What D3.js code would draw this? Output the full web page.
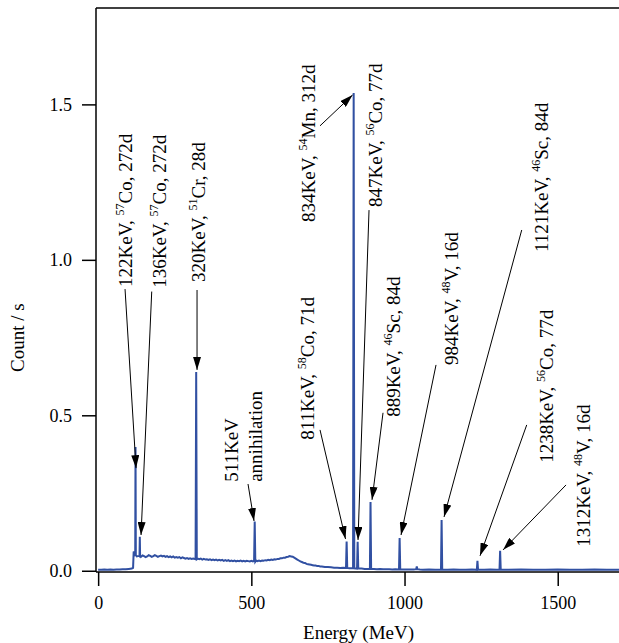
<!DOCTYPE html>
<html>
<head>
<meta charset="utf-8">
<script src="https://cdn.jsdelivr.net/npm/d3@7"></script>
</head>
<body style="margin:0; background:#fff">
<svg width="619" height="643"></svg>
<script>
// gamma spectrum, [energy, count/s]
const spectrum = [
  [0,0.003],[10,0.003],[20,0.004],[30,0.003],[40,0.004],[50,0.003],[60,0.004],[70,0.004],
  [80,0.005],[90,0.005],[100,0.006],[110,0.007],[114,0.009],[116,0.062],[118,0.058],
  [120,0.051],[121,0.052],[122,0.398],[123,0.050],[126,0.046],[130,0.047],[134,0.048],
  [135,0.047],[136,0.109],[137,0.047],[140,0.045],[145,0.049],[150,0.047],[155,0.044],
  [160,0.046],[165,0.050],[170,0.048],[175,0.045],[180,0.047],[185,0.050],[190,0.048],
  [195,0.045],[200,0.047],[205,0.049],[210,0.046],[215,0.048],[220,0.045],[225,0.047],
  [230,0.044],[235,0.046],[240,0.043],[245,0.046],[250,0.042],[255,0.044],[260,0.042],
  [265,0.044],[270,0.040],[275,0.043],[280,0.041],[285,0.039],[290,0.041],[295,0.038],
  [300,0.040],[305,0.038],[310,0.039],[318,0.037],[320,0.639],[322,0.037],[325,0.039],
  [330,0.037],[335,0.039],[340,0.036],[345,0.038],[350,0.036],[355,0.037],[360,0.035],
  [365,0.037],[370,0.034],[375,0.036],[380,0.034],[385,0.036],[390,0.033],[395,0.035],
  [400,0.033],[405,0.035],[410,0.032],[415,0.034],[420,0.032],[425,0.034],[430,0.031],
  [435,0.033],[440,0.031],[445,0.033],[450,0.030],[455,0.032],[460,0.031],[465,0.033],
  [470,0.030],[475,0.032],[480,0.030],[485,0.032],[490,0.031],[495,0.030],[500,0.032],
  [505,0.030],[509,0.032],[511,0.158],[513,0.029],[516,0.033],[520,0.031],[525,0.033],
  [530,0.031],[535,0.033],[540,0.032],[545,0.034],[550,0.033],[555,0.035],[560,0.034],
  [565,0.036],[570,0.035],[575,0.037],[580,0.036],[585,0.038],[590,0.038],[595,0.040],
  [600,0.040],[605,0.042],[610,0.042],[615,0.044],[620,0.045],[625,0.047],[630,0.046],
  [635,0.045],[640,0.042],[645,0.039],[650,0.036],[655,0.033],[660,0.030],[665,0.028],
  [670,0.026],[675,0.025],[680,0.022],[685,0.021],[690,0.020],[695,0.019],[700,0.018],
  [705,0.017],[710,0.017],[715,0.015],[720,0.015],[725,0.014],[730,0.014],[740,0.012],
  [750,0.012],[760,0.011],[770,0.010],[780,0.010],[790,0.009],[800,0.010],[809,0.009],
  [811,0.094],[813,0.009],[820,0.008],[832,0.008],[834,1.537],[836,0.008],[845,0.007],
  [847,0.093],[849,0.007],[860,0.007],[870,0.006],[880,0.006],[887,0.006],[889,0.221],
  [891,0.006],[900,0.006],[910,0.005],[920,0.006],[930,0.005],[940,0.005],[950,0.005],
  [960,0.004],[970,0.005],[982,0.004],[984,0.105],[986,0.004],[1000,0.004],[1010,0.004],
  [1020,0.004],[1030,0.004],[1038,0.005],[1040,0.014],[1042,0.005],[1050,0.004],
  [1060,0.003],[1080,0.004],[1100,0.003],[1119,0.003],[1121,0.163],[1123,0.003],
  [1140,0.003],[1160,0.004],[1180,0.003],[1200,0.003],[1220,0.004],[1236,0.003],
  [1238,0.032],[1240,0.003],[1260,0.003],[1280,0.004],[1300,0.003],[1310,0.003],
  [1312,0.064],[1314,0.003],[1340,0.003],[1380,0.004],[1420,0.003],[1460,0.003],
  [1500,0.004],[1540,0.003],[1580,0.003],[1620,0.004],[1660,0.003],[1700,0.003]
];

const xTicks = [0, 500, 1000, 1500];
const yTicks = [0, 0.5, 1.0, 1.5];

// peak labels: text (^..^ = superscript), label anchor, arrow from -> to (data units)
const labelTexts = [
  "122KeV, ^57^Co, 272d", "136KeV, ^57^Co, 272d", "320KeV, ^51^Cr, 28d",
  "511KeV", "annihilation", "811KeV, ^58^Co, 71d", "834KeV, ^54^Mn, 312d",
  "847KeV, ^56^Co, 77d", "889KeV, ^46^Sc, 84d", "984KeV, ^48^V, 16d",
  "1121KeV, ^46^Sc, 84d", "1238KeV, ^56^Co, 77d", "1312KeV, ^48^V, 16d"
];
const labelAt = [
  [110.6,0.913],[221.6,0.910],[348.9,0.929],[456.6,0.286],[534.9,0.286],[704.6,0.421],
  [707.9,1.122],[926.6,1.170],[985.3,0.495],[1174.6,0.662],[1468.3,1.025],[1484.7,0.347],
  [1605.4,0.077]
];
const arrows = [
  [[87.8,0.906],[123.7,0.330]],
  [[174.9,0.898],[140.0,0.115]],
  [[322.8,0.903],[322.8,0.646]],
  [[489.2,0.279],[508.8,0.160]],
  [[724.2,0.453],[807.4,0.102]],
  [[724.2,1.431],[830.3,1.530]],
  [[884.1,1.160],[848.2,0.099]],
  [[929.8,0.508],[893.9,0.228]],
  [[1102.8,0.662],[988.6,0.115]],
  [[1382.5,1.096],[1128.9,0.173]],
  [[1398.8,0.469],[1246.4,0.048]],
  [[1527.1,0.276],[1321.5,0.067]]
];

const W = 619, H = 643;
const margin = { top: 8, right: 0, bottom: 71, left: 96 };
const width = W - margin.left - margin.right;
const height = H - margin.top - margin.bottom;
const serif = "Liberation Serif";

const svg = d3.select("svg").attr("font-family", serif);
const g = svg.append("g").attr("transform", `translate(${margin.left},${margin.top})`);

const x = d3.scaleLinear().domain([-7, 1700]).range([0, width]);
const y = d3.scaleLinear().domain([-0.004, 1.81]).range([height, 0]);

// arrowhead
svg.append("defs").append("marker")
  .attr("id", "head")
  .attr("markerUnits", "userSpaceOnUse")
  .attr("markerWidth", 13).attr("markerHeight", 8)
  .attr("refX", 13).attr("refY", 4)
  .attr("orient", "auto")
  .append("path").attr("d", "M0,0L13,4L0,8Z").attr("fill", "#000");

// spectrum
g.append("path")
  .datum(spectrum)
  .attr("d", d3.line().x(d => x(d[0])).y(d => y(d[1])))
  .attr("fill", "none")
  .attr("stroke", "#3150a2")
  .attr("stroke-width", 2)
  .attr("stroke-linejoin", "miter");

// axes
const xAxis = g.append("g")
  .attr("transform", `translate(0,${height})`)
  .call(d3.axisBottom(x).tickValues(xTicks).tickSize(14).tickPadding(10).tickFormat(d3.format("d")))
  .attr("font-family", serif).attr("font-size", 18);

const yAxis = g.append("g")
  .call(d3.axisLeft(y).tickValues(yTicks).tickSize(14).tickPadding(10).tickFormat(d3.format(".1f")))
  .attr("font-family", serif).attr("font-size", 18);

[xAxis, yAxis].forEach(a => {
  a.select(".domain").remove();
  a.selectAll("line").attr("stroke", "#000").attr("stroke-width", 1.5);
  a.selectAll("text").attr("fill", "#000");
});

g.append("line").attr("x1", 0).attr("x2", width).attr("y1", height).attr("y2", height)
  .attr("stroke", "#000").attr("stroke-width", 1.5);
g.append("line").attr("x1", 0).attr("x2", 0).attr("y1", 0).attr("y2", height)
  .attr("stroke", "#000").attr("stroke-width", 1.5);
g.append("line").attr("x1", 0).attr("x2", width).attr("y1", 0).attr("y2", 0)
  .attr("stroke", "#000").attr("stroke-width", 1.5);

// axis titles
svg.append("text")
  .attr("x", margin.left + x(850)).attr("y", H - 4)
  .attr("text-anchor", "middle").attr("font-size", 19)
  .text("Energy (MeV)");

svg.append("text")
  .attr("transform", `translate(24,${margin.top + y(0.75)}) rotate(-90)`)
  .attr("text-anchor", "middle").attr("font-size", 19)
  .text("Count / s");

// arrows
g.selectAll(".arrow")
  .data(arrows)
  .enter().append("line")
  .attr("class", "arrow")
  .attr("x1", d => x(d[0][0])).attr("y1", d => y(d[0][1]))
  .attr("x2", d => x(d[1][0])).attr("y2", d => y(d[1][1]))
  .attr("stroke", "#000").attr("stroke-width", 1)
  .attr("marker-end", "url(#head)");

// rotated labels
const labels = g.selectAll(".lbl")
  .data(labelTexts)
  .enter().append("text")
  .attr("class", "lbl")
  .attr("transform", (d, i) => `translate(${x(labelAt[i][0])},${y(labelAt[i][1])}) rotate(-90)`)
  .attr("font-size", 19);

labels.each(function(d) {
  const t = d3.select(this);
  d.split("^").forEach((part, k) => {
    if (!part) return;
    if (k % 2 === 1) {
      t.append("tspan").attr("dy", -8).attr("font-size", 12).text(part);
    } else {
      t.append("tspan").attr("dy", k > 0 ? 8 : 0).text(part);
    }
  });
});
</script>
</body>
</html>
